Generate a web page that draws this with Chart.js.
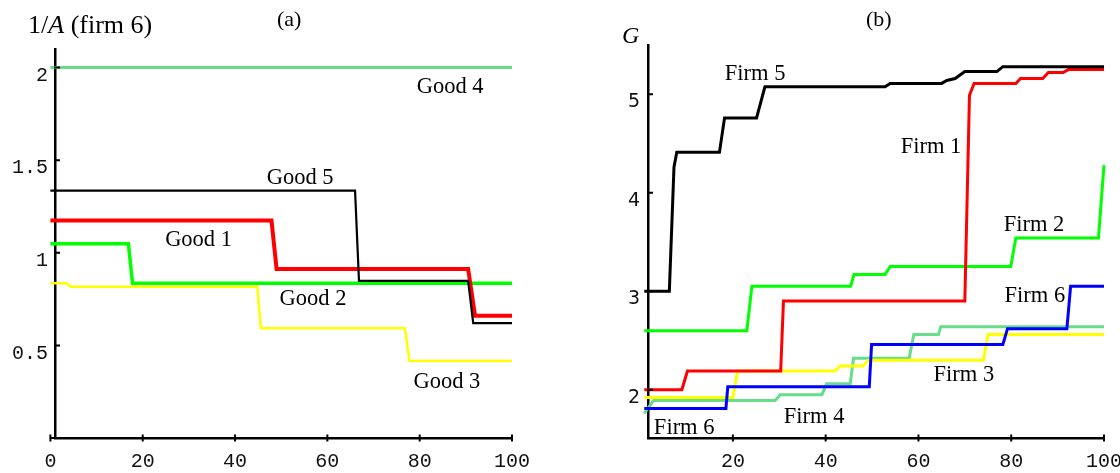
<!DOCTYPE html>
<html>
<head>
<meta charset="utf-8">
<script src="https://cdn.jsdelivr.net/npm/chart.js@4.4.1/dist/chart.umd.min.js"></script>
<style>
  html, body { margin: 0; padding: 0; background: #fff; width: 1120px; height: 473px; overflow: hidden; }
  #wrap { position: relative; width: 1120px; height: 473px; overflow: hidden; }
  canvas { position: absolute; top: 0; }
  .t { position: absolute; font-family: "Liberation Serif", serif; line-height: 1; color: #000; white-space: nowrap; }
</style>
</head>
<body>
<div id="wrap">
  <canvas id="left" width="560" height="473" style="left:0px"></canvas>
  <canvas id="right" width="580" height="473" style="left:560px"></canvas>
  <div class="t" style="left:28px; top:12px; font-size:26px;">1/<i>A</i> (firm 6)</div>
  <div class="t" style="left:277px; top:8px; font-size:22px;">(a)</div>
  <div class="t" style="left:866px; top:8px; font-size:22px;">(b)</div>
  <div class="t" style="left:622px; top:23px; font-size:24px;"><i>G</i></div>
</div>
<script>
// ---------- Panel (a): 1/A (firm 6) ----------
const good4X = [0, 100];
const good4Y = [2, 2];
const good5X = [0, 66.0, 66.85, 90.5, 91.6, 100];
const good5Y = [1.335, 1.335, 0.848, 0.848, 0.62, 0.62];
const good1X = [0, 47.9, 49.0, 90.5, 92.0, 100];
const good1Y = [1.174, 1.174, 0.913, 0.913, 0.66, 0.66];
const good2X = [0, 16.9, 17.8, 100];
const good2Y = [1.048, 1.048, 0.835, 0.835];
const good3X = [0, 3.5, 4.4, 44.8, 45.6, 76.8, 77.8, 100];
const good3Y = [0.835, 0.835, 0.817, 0.817, 0.592, 0.592, 0.416, 0.416];
const leftXTicks = [0, 20, 40, 60, 80, 100];
const leftYTicks = [0.5, 1, 1.5, 2];
const leftLabelText = ["Good 4", "Good 5", "Good 1", "Good 2", "Good 3"];
const leftLabelX = [86.6, 54.1, 32.1, 56.9, 85.9];
const leftLabelY = [1.896, 1.404, 1.066, 0.751, 0.304];

// ---------- Panel (b): G ----------
const firm5X = [0.9, 6.3, 7.3, 7.9, 17.1, 18.2, 25.1, 26.9, 52.8, 53.9, 65.0, 66.1, 67.9, 70.0, 76.9, 78.2, 100];
const firm5Y = [3.0, 3.0, 4.26, 4.41, 4.41, 4.76, 4.76, 5.076, 5.076, 5.11, 5.11, 5.14, 5.16, 5.23, 5.23, 5.28, 5.28];
const firm1X = [0.9, 9.0, 10.2, 30.3, 30.9, 70.0, 71.0, 72.0, 81.0, 82.0, 86.8, 88.0, 91.2, 92.3, 100];
const firm1Y = [2.0, 2.0, 2.19, 2.19, 2.9, 2.9, 4.99, 5.11, 5.11, 5.16, 5.16, 5.22, 5.22, 5.25, 5.25];
const firm2X = [0.9, 23.0, 24.1, 45.4, 46.1, 52.8, 53.9, 79.9, 81.0, 98.8, 100];
const firm2Y = [2.6, 2.6, 3.05, 3.05, 3.17, 3.17, 3.25, 3.25, 3.54, 3.54, 4.28];
const firm6X = [0.9, 18.5, 18.9, 49.4, 49.9, 78.2, 79.2, 92.0, 92.8, 100];
const firm6Y = [1.81, 1.81, 2.03, 2.03, 2.46, 2.46, 2.62, 2.62, 3.05, 3.05];
const firm3X = [0.9, 20.0, 21.0, 42.0, 43.1, 48.0, 49.2, 74.0, 75.0, 100];
const firm3Y = [1.92, 1.92, 2.19, 2.19, 2.24, 2.24, 2.30, 2.30, 2.56, 2.56];
const firm4X = [0.9, 2.9, 29.1, 30.2, 39.2, 40.2, 45.3, 46.0, 58.0, 59.0, 64.3, 64.8, 100];
const firm4Y = [1.76, 1.89, 1.89, 1.95, 1.95, 2.06, 2.06, 2.32, 2.32, 2.56, 2.56, 2.64, 2.64];
const rightXTicks = [20, 40, 60, 80, 100];
const rightYTicks = [2, 3, 4, 5];
const rightLabelText = ["Firm 5", "Firm 1", "Firm 2", "Firm 6", "Firm 3", "Firm 4", "Firm 6"];
const rightLabelX = [24.8, 62.7, 84.9, 85.1, 69.8, 37.5, 9.5];
const rightLabelY = [5.206, 4.465, 3.674, 2.947, 2.145, 1.723, 1.615];

// ---------- helpers ----------
const zip = (xs, ys) => xs.map((x, i) => ({ x: x, y: ys[i] }));
const ds = (xs, ys, color, width, order) => ({
  data: zip(xs, ys), borderColor: color, backgroundColor: color, borderWidth: width,
  pointRadius: 0, tension: 0, fill: false, order: order, clip: false
});
const labelPlugin = (texts, xs, ys) => ({
  id: 'textLabels',
  afterDatasetsDraw(chart) {
    const c = chart.ctx, sx = chart.scales.x, sy = chart.scales.y;
    c.save();
    c.font = '22.5px "Liberation Serif"';
    c.fillStyle = '#000';
    c.textAlign = 'center';
    c.textBaseline = 'middle';
    texts.forEach((t, i) => c.fillText(t, sx.getPixelForValue(xs[i]), sy.getPixelForValue(ys[i])));
    c.restore();
  }
});
// tick marks drawn Mathematica-style: inward on the y axis, crossing on the x axis
const tickPlugin = {
  id: 'innerTicks',
  afterDraw(chart) {
    const c = chart.ctx, sx = chart.scales.x, sy = chart.scales.y, a = chart.chartArea;
    c.save();
    c.strokeStyle = '#000';
    c.lineWidth = 2;
    c.beginPath();
    sx.ticks.forEach(t => {
      const px = sx.getPixelForValue(t.value);
      c.moveTo(px, a.bottom - 3.5); c.lineTo(px, a.bottom + 3.5);
    });
    sy.ticks.forEach(t => {
      const py = sy.getPixelForValue(t.value);
      c.moveTo(a.left - 1, py); c.lineTo(a.left + 5, py);
    });
    const first = sx.getPixelForValue(sx.ticks[0].value);
    if (first < a.left) { c.moveTo(first, a.bottom); c.lineTo(a.left, a.bottom); }
    c.stroke();
    c.restore();
  }
};
const fixedTicks = vals => scale => { scale.ticks = vals.map(v => ({ value: v })); };
const axisCommon = {
  border: { display: true, color: '#000', width: 2.5 },
  grid: { display: false, drawOnChartArea: false, drawTicks: false }
};

Chart.defaults.animation = false;

// ---------- left chart ----------
new Chart(document.getElementById('left'), {
  type: 'line',
  data: {
    datasets: [
      ds(good3X, good3Y, '#ffff00', 2.5, 5),
      ds(good2X, good2Y, '#00ff00', 3.5, 4),
      ds(good1X, good1Y, '#ff0000', 4, 3),
      ds(good5X, good5Y, '#000000', 2.2, 1),
      ds(good4X, good4Y, '#66dd88', 3, 2)
    ]
  },
  options: {
    responsive: false,
    animation: false,
    layout: { padding: { left: 0, right: 48, top: 49, bottom: 0 } },
    plugins: { legend: { display: false }, tooltip: { enabled: false } },
    scales: {
      x: {
        type: 'linear', min: 1, max: 100,
        ...axisCommon,
        afterBuildTicks: fixedTicks(leftXTicks),
        afterFit: s => { s.height = 35; },
        ticks: { autoSkip: false, maxRotation: 0, padding: 12, color: '#111',
                 font: { family: 'Liberation Mono', size: 20 }, callback: v => String(v) }
      },
      y: {
        type: 'linear', min: 0, max: 2.1,
        ...axisCommon,
        afterBuildTicks: fixedTicks(leftYTicks),
        afterFit: s => { s.width = 55; },
        ticks: { autoSkip: false, padding: 7, labelOffset: 8, color: '#111',
                 font: { family: 'Liberation Mono', size: 20 }, callback: v => String(v) }
      }
    }
  },
  plugins: [labelPlugin(leftLabelText, leftLabelX, leftLabelY), tickPlugin]
});

// ---------- right chart ----------
new Chart(document.getElementById('right'), {
  type: 'line',
  data: {
    datasets: [
      ds(firm4X, firm4Y, '#66dd88', 3, 6),
      ds(firm3X, firm3Y, '#ffff00', 3, 5),
      ds(firm6X, firm6Y, '#0000ff', 3, 4),
      ds(firm2X, firm2Y, '#00ff00', 3, 3),
      ds(firm1X, firm1Y, '#ff0000', 3, 2),
      ds(firm5X, firm5Y, '#000000', 3, 1)
    ]
  },
  options: {
    responsive: false,
    animation: false,
    layout: { padding: { left: 0, right: 36, top: 45, bottom: 0 } },
    plugins: { legend: { display: false }, tooltip: { enabled: false } },
    scales: {
      x: {
        type: 'linear', min: 1.7, max: 100,
        ...axisCommon,
        afterBuildTicks: fixedTicks(rightXTicks),
        afterFit: s => { s.height = 35; },
        ticks: { autoSkip: false, maxRotation: 0, padding: 12, color: '#111',
                 font: { family: 'Liberation Mono', size: 20 }, callback: v => String(v) }
      },
      y: {
        type: 'linear', min: 1.51, max: 5.5,
        ...axisCommon,
        afterBuildTicks: fixedTicks(rightYTicks),
        afterFit: s => { s.width = 88; },
        ticks: { autoSkip: false, padding: 8, labelOffset: 8, color: '#111',
                 font: { family: 'DejaVu Sans', size: 19 }, callback: v => String(v) }
      }
    }
  },
  plugins: [labelPlugin(rightLabelText, rightLabelX, rightLabelY), tickPlugin]
});
</script>
</body>
</html>
